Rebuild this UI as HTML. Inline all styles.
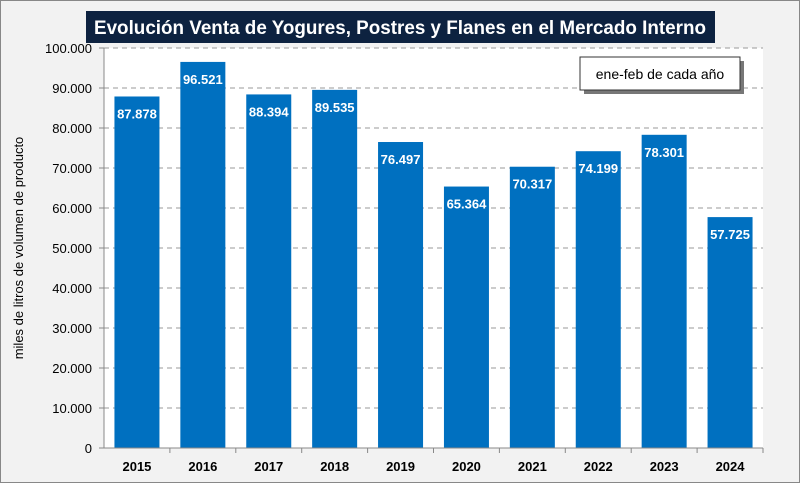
<!DOCTYPE html>
<html><head><meta charset="utf-8"><style>
body{margin:0;background:#fff}
#wrap{position:relative;width:798px;height:481px;background:#f2f2f2;border:1px solid #888;font-family:"Liberation Sans",sans-serif}
</style></head><body>
<div id="wrap">
<svg id="svg" width="798" height="481" xmlns="http://www.w3.org/2000/svg">
<rect x="85" y="10" width="629" height="32" fill="#0d2240"/>
<text x="399" y="33" text-anchor="middle" fill="#fff" font-size="19" font-weight="bold" textLength="612" lengthAdjust="spacingAndGlyphs">Evolución Venta de Yogures, Postres y Flanes en el Mercado Interno</text>
<rect x="103" y="47" width="659" height="400" fill="#fff"/>
<g id="grid"></g><g id="bars"></g><g id="axes"></g>
<rect x="583" y="60" width="160" height="33" fill="#777"/>
<rect x="579" y="56" width="160" height="33" fill="#fff" stroke="#333"/>
<text x="659" y="78" text-anchor="middle" font-size="14" fill="#000">ene-feb de cada año</text>
<text transform="translate(22,247) rotate(-90)" text-anchor="middle" font-size="13" fill="#000">miles de litros de volumen de producto</text>
</svg></div>
<script>
const categories=["2015","2016","2017","2018","2019","2020","2021","2022","2023","2024"];
const values=[87878,96521,88394,89535,76497,65364,70317,74199,78301,57725];
const valueLabels=["87.878","96.521","88.394","89.535","76.497","65.364","70.317","74.199","78.301","57.725"];
const yTicks=[0,10000,20000,30000,40000,50000,60000,70000,80000,90000,100000];
const yTickLabels=["0","10.000","20.000","30.000","40.000","50.000","60.000","70.000","80.000","90.000","100.000"];
const NS="http://www.w3.org/2000/svg";
const x0=103,x1=762,yTop=47,yBot=447,ymax=100000;
const y=v=>yBot-(v/ymax)*(yBot-yTop);
const cw=(x1-x0)/categories.length;
const xc=i=>x0+cw*(i+0.5);
function mk(tag,attrs,parent,txt){const e=document.createElementNS(NS,tag);for(const k in attrs)e.setAttribute(k,attrs[k]);if(txt!==undefined)e.textContent=txt;document.getElementById(parent).appendChild(e);return e;}
yTicks.forEach((t,i)=>{
 if(t>0){const g=mk('line',{x1:x0,x2:x1,y1:y(t),y2:y(t),stroke:'#999','stroke-dasharray':'5,4'},'grid');
 
 }
 const tk=mk('line',{x1:x0-5,x2:x0,y1:y(t),y2:y(t),stroke:'#888'},'axes');
 
 
 const l=mk('text',{x:x0-12,y:y(t)+5,'text-anchor':'end','font-size':13,fill:'#000'},'axes',yTickLabels[i]);
 
 
});
categories.forEach((c,i)=>{
 const bw=45,top=y(values[i]);
 const r=mk('rect',{x:xc(i)-bw/2,y:top,width:bw,height:yBot-top,fill:'#0070c0'},'bars');
 
 
 const t=mk('text',{x:xc(i),y:top+22,'text-anchor':'middle','font-size':13,'font-weight':'bold',fill:'#fff'},'bars',valueLabels[i]);
 
 
 const xl=mk('text',{x:xc(i),y:470,'text-anchor':'middle','font-size':13,'font-weight':'bold',fill:'#000'},'axes',c);
 
 
 const xt=mk('line',{x1:x0+cw*(i+1),x2:x0+cw*(i+1),y1:yBot,y2:yBot+5,stroke:'#888'},'axes');
 
 
});
const ax=mk('line',{x1:x0,x2:x0,y1:yTop,y2:yBot,stroke:'#888'},'axes');


const bx=mk('line',{x1:x0,x2:x1,y1:yBot,y2:yBot,stroke:'#888'},'axes');


</script>
</body></html>
